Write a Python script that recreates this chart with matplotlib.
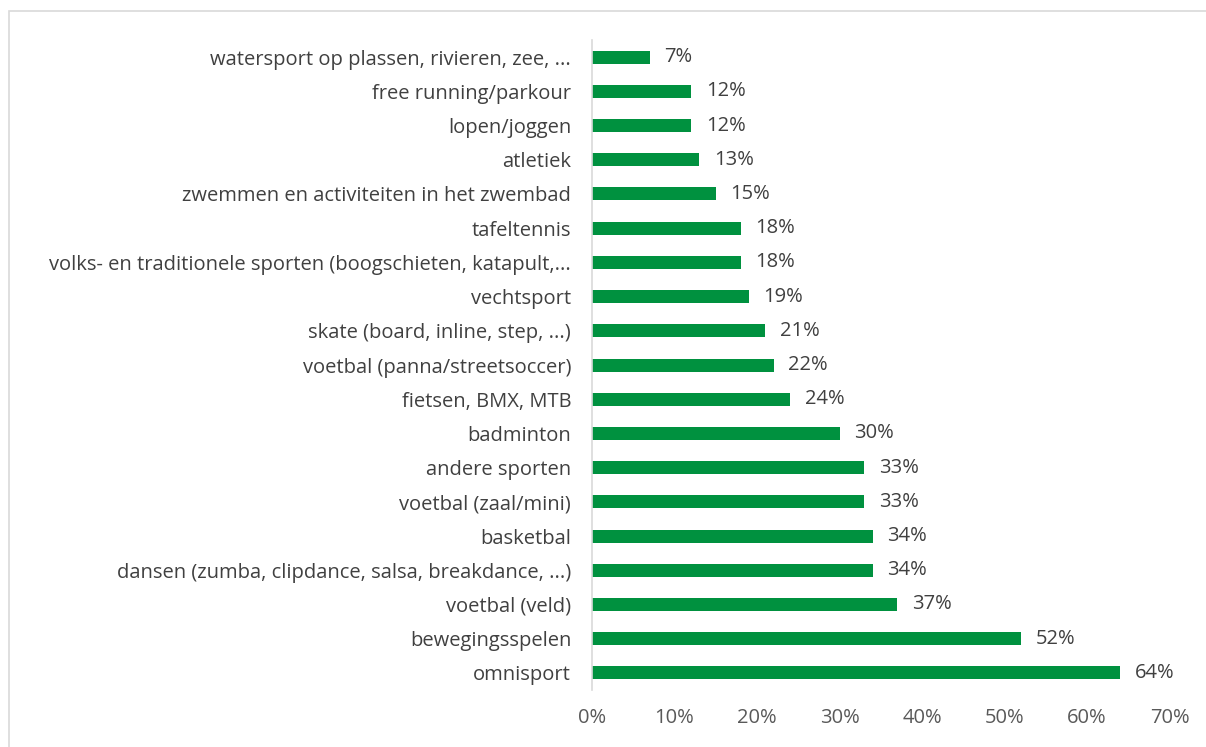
import matplotlib
matplotlib.use("Agg")
import matplotlib.pyplot as plt
from matplotlib.patches import Rectangle

# --- Data (top to bottom as shown) ---
categories = [
    "watersport op plassen, rivieren, zee, ...",
    "free running/parkour",
    "lopen/joggen",
    "atletiek",
    "zwemmen en activiteiten in het zwembad",
    "tafeltennis",
    "volks- en traditionele sporten (boogschieten, katapult,...",
    "vechtsport",
    "skate (board, inline, step, ...)",
    "voetbal (panna/streetsoccer)",
    "fietsen, BMX, MTB",
    "badminton",
    "andere sporten",
    "voetbal (zaal/mini)",
    "basketbal",
    "dansen (zumba, clipdance, salsa, breakdance, ...)",
    "voetbal (veld)",
    "bewegingsspelen",
    "omnisport",
]
values = [7, 12, 12, 13, 15, 18, 18, 19, 21, 22, 24, 30, 33, 33, 34, 34, 37, 52, 64]
x_ticks = [0, 10, 20, 30, 40, 50, 60, 70]

plt.rcParams['font.family'] = ['Open Sans', 'DejaVu Sans']

fig = plt.figure(figsize=(12.06, 7.47), dpi=100)
ax = fig.add_axes([592 / 1206, 1 - 690 / 747, (1169.5 - 592) / 1206, 650 / 747])

# outer chart border
fig.patches.append(Rectangle((9 / 1206, -0.01), 1.0, 1 - 11 / 747 + 0.01,
                             transform=fig.transFigure, fill=False,
                             edgecolor='#D9D9D9', linewidth=1.2))

y_pos = list(range(len(categories)))[::-1]
ax.barh(y_pos, values, height=0.38, color='#00913F')

for y, v in zip(y_pos, values):
    ax.text(v + 1.8, y, f"{v}%", va='center', ha='left',
            fontsize=14.5, color='#404040')

ax.set_xlim(0, 70)
ax.set_ylim(-0.5, len(categories) - 0.5)
ax.set_xticks(x_ticks)
ax.set_xticklabels([f"{t}%" for t in x_ticks], fontsize=14.5, color='#595959')
ax.set_yticks(y_pos)
ax.set_yticklabels(categories, fontsize=14.5, color='#404040')
ax.tick_params(axis='both', length=0)
ax.tick_params(axis='y', pad=15)
ax.tick_params(axis='x', pad=13)

for side in ['top', 'right', 'bottom']:
    ax.spines[side].set_visible(False)
ax.spines['left'].set_color('#D9D9D9')
ax.spines['left'].set_linewidth(1.2)

fig.savefig("out.png", dpi=100)
